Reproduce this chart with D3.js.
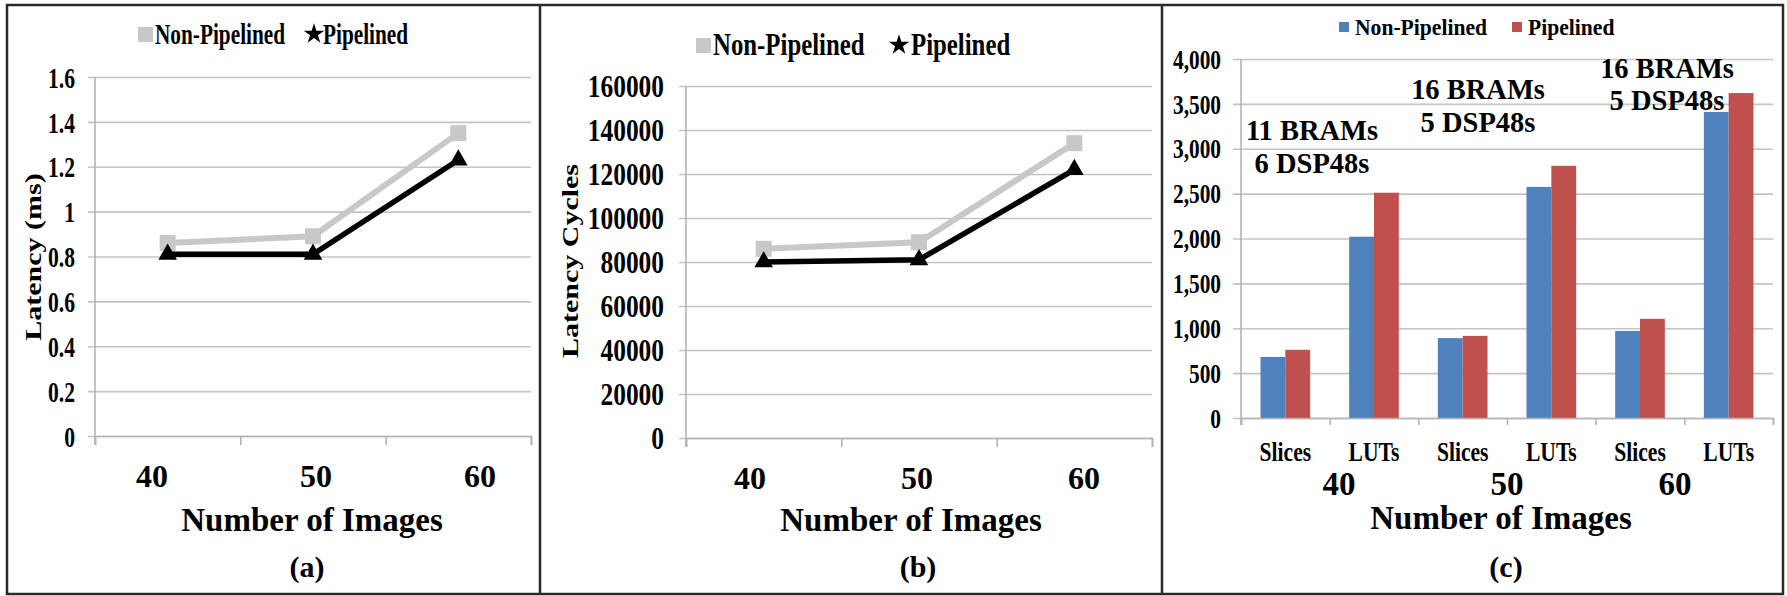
<!DOCTYPE html>
<html><head><meta charset="utf-8">
<script src="https://cdn.jsdelivr.net/npm/d3@7"></script>
<style>
body{margin:0;background:#fff}
svg{display:block}
text{font-family:"Liberation Serif","Times New Roman",serif;font-weight:bold;fill:#000}
</style>
</head><body>
<svg id="chart" width="1787" height="596"></svg>
<script>
// ---------- DATA ----------
const seriesNames = ["Non-Pipelined", "Pipelined"];
const imageCounts = ["40", "50", "60"];
const latencyNonPipe = [0.86, 0.89, 1.35];
const latencyPipe = [0.81, 0.81, 1.23];
const latencyTicks = [0, 0.2, 0.4, 0.6, 0.8, 1, 1.2, 1.4, 1.6];
const cyclesNonPipe = [86000, 89000, 134000];
const cyclesPipe = [80000, 81000, 122000];
const cyclesTicks = [0, 20000, 40000, 60000, 80000, 100000, 120000, 140000, 160000];
const resourceCats = ["Slices", "LUTs", "Slices", "LUTs", "Slices", "LUTs"];
const resourceGroups = ["40", "50", "60"];
const resNonPipe = [680, 2020, 890, 2575, 970, 3410];
const resPipe = [760, 2510, 915, 2810, 1105, 3620];
const resTicks = [0, 500, 1000, 1500, 2000, 2500, 3000, 3500, 4000];
const memLabels = [["11 BRAMs", "6 DSP48s"], ["16 BRAMs", "5 DSP48s"], ["16 BRAMs", "5 DSP48s"]];
const yTitles = ["Latency (ms)", "Latency Cycles"];
const xTitle = "Number of Images";
const panelLabels = ["(a)", "(b)", "(c)"];

// ---------- STYLE ----------
const GREY = "#c8c8c8", BLACK = "#000", BLUE = "#4f81bd", RED = "#c0504d";
const GRID = "#c4c4c4", AXIS = "#b4b4b4";

const svg = d3.select("#chart");

// frame
svg.append("rect").attr("x", 7).attr("y", 5).attr("width", 1776).attr("height", 589)
  .attr("fill", "none").attr("stroke", "#2a2a2a").attr("stroke-width", 2.5);
[540, 1162].forEach(xx => svg.append("line").attr("x1", xx).attr("x2", xx).attr("y1", 5).attr("y2", 594)
  .attr("stroke", "#2a2a2a").attr("stroke-width", 2.5));

function linePanel(c) {
  const g = svg.append("g");
  const x = d3.scaleBand().domain(imageCounts).range([c.x0, c.x1]);
  const y = d3.scaleLinear().domain([c.ticks[0], c.ticks[c.ticks.length - 1]]).range([c.yb, c.yt]);
  const xb = d3.scaleLinear().domain([0, imageCounts.length]).range([c.x0, c.x1]);

  // gridlines (extend 7px left as ticks)
  const grid = g.append("g").attr("transform", `translate(${c.x1},0)`)
    .call(d3.axisLeft(y).tickValues(c.ticks).tickSize(c.x1 - c.x0 + 7).tickFormat(""));
  grid.select(".domain").remove();
  grid.selectAll("line").attr("stroke", GRID).attr("stroke-width", 1.6);

  // y axis vertical line
  g.append("line").attr("x1", c.x0).attr("x2", c.x0).attr("y1", y(c.ticks[c.ticks.length - 1])).attr("y2", c.yb + 9)
    .attr("stroke", AXIS).attr("stroke-width", 1.6);
  // x axis
  const xa = g.append("g").attr("transform", `translate(0,${c.yb})`)
    .call(d3.axisBottom(xb).tickValues(d3.range(imageCounts.length + 1)).tickSize(9).tickFormat(""));
  xa.select(".domain").attr("stroke", AXIS).attr("stroke-width", 1.6);
  xa.selectAll("line").attr("stroke", AXIS).attr("stroke-width", 1.6);

  // y tick labels
  const yl = g.append("g").attr("transform", `translate(${c.labRight},0)`)
    .call(d3.axisLeft(y).tickValues(c.ticks).tickSize(0).tickPadding(0).tickFormat(d => String(d)));
  yl.select(".domain").remove();
  yl.selectAll("text").attr("font-size", c.tickFont).attr("dy", "0.34em")
    .attr("transform", `scale(${c.tickSx},1)`);

  // category labels
  const lx = d3.scalePoint().domain(imageCounts).range([c.lab0, c.lab1]);
  g.selectAll(".cl").data(imageCounts).join("text").attr("class", "cl")
    .attr("x", d => lx(d)).attr("y", c.labY).attr("text-anchor", "middle").attr("font-size", 32).text(d => d);

  // x title & panel label
  g.append("text").attr("x", c.titleX).attr("y", 531).attr("text-anchor", "middle").attr("font-size", 33).text(xTitle);
  g.append("text").attr("x", c.panelX).attr("y", 577).attr("text-anchor", "middle").attr("font-size", 30).text(c.panel);

  // y title
  g.append("text").attr("transform", `translate(${c.ytX},${c.ytY}) rotate(-90) scale(1,0.8)`)
    .attr("text-anchor", "middle").attr("font-size", 30).text(c.yTitle);

  // lines
  const cx = d => x(d.c) + x.bandwidth() / 2;
  const line = d3.line().x(cx).y(d => y(d.v));
  const s1 = imageCounts.map((k, i) => ({ c: k, v: c.s1[i] }));
  const s2 = imageCounts.map((k, i) => ({ c: k, v: c.s2[i] }));
  g.append("path").datum(s1).attr("d", line).attr("fill", "none").attr("stroke", GREY).attr("stroke-width", 6);
  g.selectAll(".sq").data(s1).join("rect").attr("class", "sq")
    .attr("x", d => cx(d) - 8).attr("y", d => y(d.v) - 8).attr("width", 16).attr("height", 16).attr("fill", GREY);
  g.append("path").datum(s2).attr("d", line).attr("fill", "none").attr("stroke", BLACK).attr("stroke-width", 5.5);
  g.selectAll(".tri").data(s2).join("path").attr("class", "tri")
    .attr("transform", d => `translate(${cx(d)},${y(d.v)})`)
    .attr("d", d3.symbol(d3.symbolTriangle, 150)).attr("fill", BLACK);

  // legend
  const L = c.legend;
  g.append("rect").attr("x", L.sq - 7).attr("y", L.y - 7).attr("width", 15).attr("height", 15).attr("fill", GREY);
  g.append("text").attr("transform", `translate(${L.t1},${L.base}) scale(${L.sx},1)`).attr("font-size", L.font).text(seriesNames[0]);
  g.append("path").attr("transform", `translate(${L.star},${L.y})`).attr("d", d3.symbol(d3.symbolStar, 130)).attr("fill", BLACK);
  g.append("text").attr("transform", `translate(${L.t2},${L.base}) scale(${L.sx},1)`).attr("font-size", L.font).text(seriesNames[1]);
}

linePanel({
  x0: 95, x1: 531, yb: 436, yt: 77, ticks: latencyTicks, s1: latencyNonPipe, s2: latencyPipe,
  labRight: 75, tickFont: 30, tickSx: 0.72, lab0: 152, lab1: 480, labY: 487,
  titleX: 312, panelX: 307, panel: panelLabels[0], ytX: 41, ytY: 257, yTitle: yTitles[0],
  legend: { sq: 145, y: 34, t1: 155, star: 314, t2: 323, base: 44, font: 30, sx: 0.71 }
});
linePanel({
  x0: 686, x1: 1152, yb: 438, yt: 86, ticks: cyclesTicks, s1: cyclesNonPipe, s2: cyclesPipe,
  labRight: 664, tickFont: 31, tickSx: 0.82, lab0: 750, lab1: 1084, labY: 489,
  titleX: 911, panelX: 918, panel: panelLabels[1], ytX: 578, ytY: 261, yTitle: yTitles[1],
  legend: { sq: 703, y: 45, t1: 713, star: 899, t2: 911, base: 55, font: 31, sx: 0.8 }
});

// ---------- BAR PANEL (c) ----------
(function () {
  const g = svg.append("g");
  const x0 = 1241, x1 = 1773, yb = 418, yt = 59;
  const idx = d3.range(resourceCats.length);
  const x = d3.scaleBand().domain(idx).range([x0, x1]);
  const xi = d3.scaleBand().domain([0, 1]).range([x.bandwidth() * 0.22, x.bandwidth() * 0.78]);
  const y = d3.scaleLinear().domain([0, 4000]).range([yb, yt]);
  const xb = d3.scaleLinear().domain([0, idx.length]).range([x0, x1]);

  const grid = g.append("g").attr("transform", `translate(${x1},0)`)
    .call(d3.axisLeft(y).tickValues(resTicks).tickSize(x1 - 1233).tickFormat(""));
  grid.select(".domain").remove();
  grid.selectAll("line").attr("stroke", GRID).attr("stroke-width", 1.6);
  g.append("line").attr("x1", x0).attr("x2", x0).attr("y1", yt).attr("y2", yb + 7)
    .attr("stroke", AXIS).attr("stroke-width", 1.6);

  const yl = g.append("g").attr("transform", `translate(1221,0)`)
    .call(d3.axisLeft(y).tickValues(resTicks).tickSize(0).tickPadding(0).tickFormat(d3.format(",")));
  yl.select(".domain").remove();
  yl.selectAll("text").attr("font-size", 27).attr("dy", "0.34em").attr("transform", "scale(0.79,1)");

  const rows = idx.map(i => ({ i, v: [resNonPipe[i], resPipe[i]] }));
  const grp = g.selectAll(".grp").data(rows).join("g").attr("class", "grp")
    .attr("transform", d => `translate(${x(d.i)},0)`);
  grp.selectAll("rect").data(d => d.v.map((v, k) => ({ v, k }))).join("rect")
    .attr("x", d => xi(d.k)).attr("width", xi.bandwidth())
    .attr("y", d => y(d.v)).attr("height", d => yb - y(d.v))
    .attr("fill", d => d.k === 0 ? BLUE : RED);

  const xa = g.append("g").attr("transform", `translate(0,${yb})`)
    .call(d3.axisBottom(xb).tickValues(d3.range(idx.length + 1)).tickSize(7).tickFormat(""));
  xa.select(".domain").attr("stroke", AXIS).attr("stroke-width", 1.6);
  xa.selectAll("line").attr("stroke", AXIS).attr("stroke-width", 1.6);

  g.selectAll(".cat").data(idx).join("text").attr("class", "cat")
    .attr("transform", i => `translate(${x(i) + x.bandwidth() / 2},461) scale(0.8,1)`)
    .attr("text-anchor", "middle").attr("font-size", 27).text(i => resourceCats[i]);

  const gx = d3.scalePoint().domain(resourceGroups).range([1339, 1675]);
  g.selectAll(".gl").data(resourceGroups).join("text").attr("class", "gl")
    .attr("x", d => gx(d)).attr("y", 495).attr("text-anchor", "middle").attr("font-size", 33).text(d => d);

  g.append("text").attr("x", 1501).attr("y", 529).attr("text-anchor", "middle").attr("font-size", 33).text(xTitle);
  g.append("text").attr("x", 1506).attr("y", 577).attr("text-anchor", "middle").attr("font-size", 30).text(panelLabels[2]);

  // annotations
  const annoPos = [{ x: 1312, y: [140, 173] }, { x: 1478, y: [99, 132] }, { x: 1667, y: [78, 110] }];
  memLabels.forEach((lines, j) => {
    lines.forEach((t, k) => {
      g.append("text").attr("transform", `translate(${annoPos[j].x},${annoPos[j].y[k]}) scale(0.95,1)`)
        .attr("text-anchor", "middle").attr("font-size", 30).text(t);
    });
  });

  // legend
  g.append("rect").attr("x", 1339).attr("y", 22).attr("width", 10).attr("height", 10).attr("fill", BLUE);
  g.append("text").attr("transform", "translate(1355,35) scale(0.9,1)").attr("font-size", 24).text(seriesNames[0]);
  g.append("rect").attr("x", 1512).attr("y", 22).attr("width", 10).attr("height", 10).attr("fill", RED);
  g.append("text").attr("transform", "translate(1528,35) scale(0.9,1)").attr("font-size", 24).text(seriesNames[1]);
})();
</script>
</body></html>
